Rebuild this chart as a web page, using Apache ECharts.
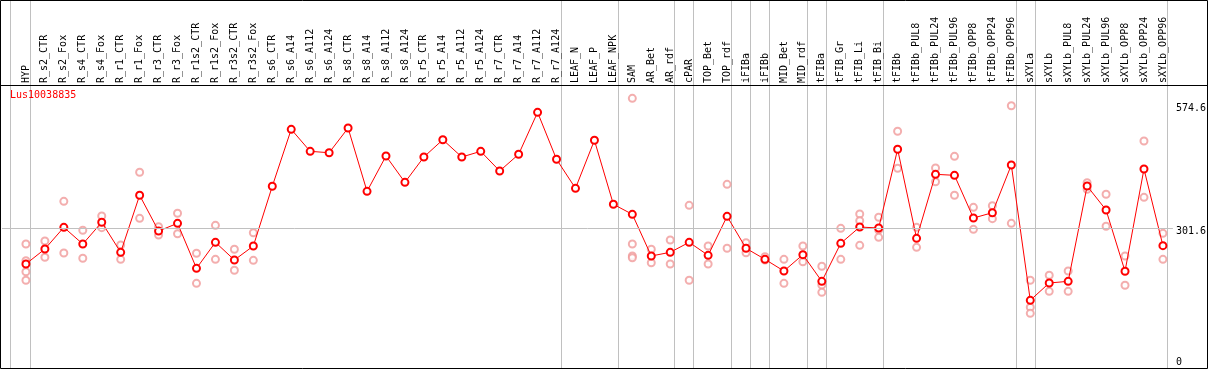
<!DOCTYPE html>
<html>
<head>
<meta charset="utf-8">
<script src="https://cdn.jsdelivr.net/npm/echarts@6/dist/echarts.min.js"></script>
<style>
html,body{margin:0;padding:0;background:#fff;}
#chart{width:1209px;height:370px;}
</style>
</head>
<body>
<div id="chart"></div>
<script>
const title = 'Lus10038835';
const categories = ['HYP','R_s2_CTR','R_s2_Fox','R_s4_CTR','R_s4_Fox','R_r1_CTR','R_r1_Fox','R_r3_CTR','R_r3_Fox','R_r1s2_CTR','R_r1s2_Fox','R_r3s2_CTR','R_r3s2_Fox','R_s6_CTR','R_s6_A14','R_s6_A112','R_s6_A124','R_s8_CTR','R_s8_A14','R_s8_A112','R_s8_A124','R_r5_CTR','R_r5_A14','R_r5_A112','R_r5_A124','R_r7_CTR','R_r7_A14','R_r7_A112','R_r7_A124','LEAF_N','LEAF_P','LEAF_NPK','SAM','AR_Bet','AR_rdf','cPAR','TOP_Bet','TOP_rdf','iFIBa','iFIBb','MID_Bet','MID_rdf','tFIBa','tFIB_Gr','tFIB_Li','tFIB_Bi','tFIBb','tFIBb_PUL8','tFIBb_PUL24','tFIBb_PUL96','tFIBb_OPP8','tFIBb_OPP24','tFIBb_OPP96','sXYLa','sXYLb','sXYLb_PUL8','sXYLb_PUL24','sXYLb_PUL96','sXYLb_OPP8','sXYLb_OPP24','sXYLb_OPP96'];
const means = [222.9,256.2,304.4,267.3,315.6,248.9,375.6,296.2,313.3,213.3,271.1,231.8,262.9,395.6,522.2,473.3,470.2,525.1,384.4,462.9,404.4,460.7,499.1,460.7,473.3,429.6,466.7,560.0,455.6,391.1,497.8,355.6,333.3,240.7,248.9,271.1,242.2,328.9,257.8,233.3,207.3,243.6,184.4,268.9,305.1,302.9,477.8,280.0,422.2,420.0,325.1,336.9,442.9,142.2,180.7,184.4,396.2,342.9,206.7,434.0,263.6];
const replicates = [
 [267.3,230.2,205.8,186.7],[274.0,237.8],[362.2,247.3],[297.8,235.6],[329.6,303.6],[265.1,233.3],[426.7,324.4],[305.8,287.3],[335.6,290.2],[246.7,180.0],[308.9,233.3],[255.6,208.9],[292.4,231.1],
 [],[],[],[],[],[],[],[],[],[],[],[],[],[],[],[],[],[],[],
 [591.1,267.3,240.7,236.9],[255.6,225.8],[276.2,222.9],[353.3,186.7],[262.9,222.9],[400.0,257.8],[270.2,248.0],[239.1,231.8],[233.3,180.0],[262.9,228.0],
 [217.8,176.2,160.0],[302.2,233.3],[334.0,319.1,264.4],[326.7,298.4,282.2],[517.8,435.6],[304.4,260.0],[436.2,405.8],[462.2,375.6],[348.9,300.0],[352.4,323.6],[574.6,313.3],
 [186.7,126.7,113.3],[197.8,162.2],[207.3,162.2],[403.6,388.9],[377.8,306.7],[240.7,175.6],[496.2,371.1],[291.1,233.3]
];
const yTickLabels = [0, 301.6, 574.6];
const gridValue = 301.6;
// indices of the last category of each group (a separator follows them); -1 = left edge
const groupEnds = [-1,0,28,31,34,35,37,38,39,41,42,45,52,53,60];

const font = '"DejaVu Sans Mono", "Liberation Mono", monospace';
const meanData = means.map((v,i)=>[i,v]);
const repData = [];
replicates.forEach((arr,i)=>arr.forEach(v=>repData.push([i,v])));
const sepData = groupEnds.map(i => [i === -1 ? -0.8 : i + 0.25]);
const Y_MIN = -8.2, Y_MAX = 620.7;

const chart = echarts.init(document.getElementById('chart'), null, {renderer:'canvas'});
chart.setOption({
  animation:false,
  backgroundColor:'#fff',
  title:{text:title,left:10,top:90,padding:0,textStyle:{color:'#ff0000',fontSize:10,fontWeight:'normal',fontFamily:font}},
  grid:{left:2,right:33,top:85,bottom:2},
  xAxis:{type:'value',position:'top',min:-1.2632,max:60.5263,
    axisLine:{show:false},axisTick:{show:false},splitLine:{show:false},
    axisLabel:{customValues:categories.map((c,i)=>i),rotate:90,margin:2,fontSize:10,fontFamily:font,color:'#000',
      formatter:v=>categories[Math.round(v)]||''}},
  yAxis:{type:'value',position:'right',min:Y_MIN,max:Y_MAX,
    axisLine:{show:false},axisTick:{show:false},splitLine:{show:false},
    axisLabel:{customValues:yTickLabels,margin:3,fontSize:10,fontFamily:font,color:'#000',verticalAlign:'middle',
      formatter:v=> v===0 ? '{z|0}' : '{n|'+v+'}',
      rich:{n:{padding:[6,0,0,0],fontSize:10,fontFamily:font,color:'#000'},z:{padding:[0,0,3,0],fontSize:10,fontFamily:font,color:'#000'}}}},
  graphic:[
    {type:'rect',z:100,silent:true,shape:{x:0.5,y:0.5,width:1207,height:368},style:{fill:null,stroke:'#000',lineWidth:1}},
    {type:'line',z:100,silent:true,shape:{x1:0,y1:85.5,x2:1208,y2:85.5},style:{stroke:'#000',lineWidth:1}}
  ],
  series:[
    {type:'custom',z:0,silent:true,clip:false,data:sepData,
      renderItem:(params,api)=>{
        const p = api.coord([api.value(0), Y_MIN]);
        const x = Math.floor(p[0])+0.5;
        return {type:'line',shape:{x1:x,y1:0,x2:x,y2:p[1]},style:{stroke:'#c0c0c0',lineWidth:1}};
      }},
    {type:'line',z:1,silent:true,data:[],markLine:{silent:true,symbol:'none',label:{show:false},
      lineStyle:{color:'#c0c0c0',type:'solid',width:1},data:[{yAxis:gridValue}]}},
    {type:'scatter',z:2,silent:true,data:repData,symbol:'emptyCircle',symbolSize:7,
      itemStyle:{color:'#f09a9a',borderColor:'#f09a9a',borderWidth:1.5}},
    {type:'line',z:3,silent:true,data:meanData,symbol:'emptyCircle',symbolSize:7,showSymbol:true,clip:false,
      lineStyle:{color:'#ff0000',width:1},itemStyle:{color:'#ff0000',borderColor:'#ff0000',borderWidth:2}}
  ]
});
</script>
</body>
</html>
